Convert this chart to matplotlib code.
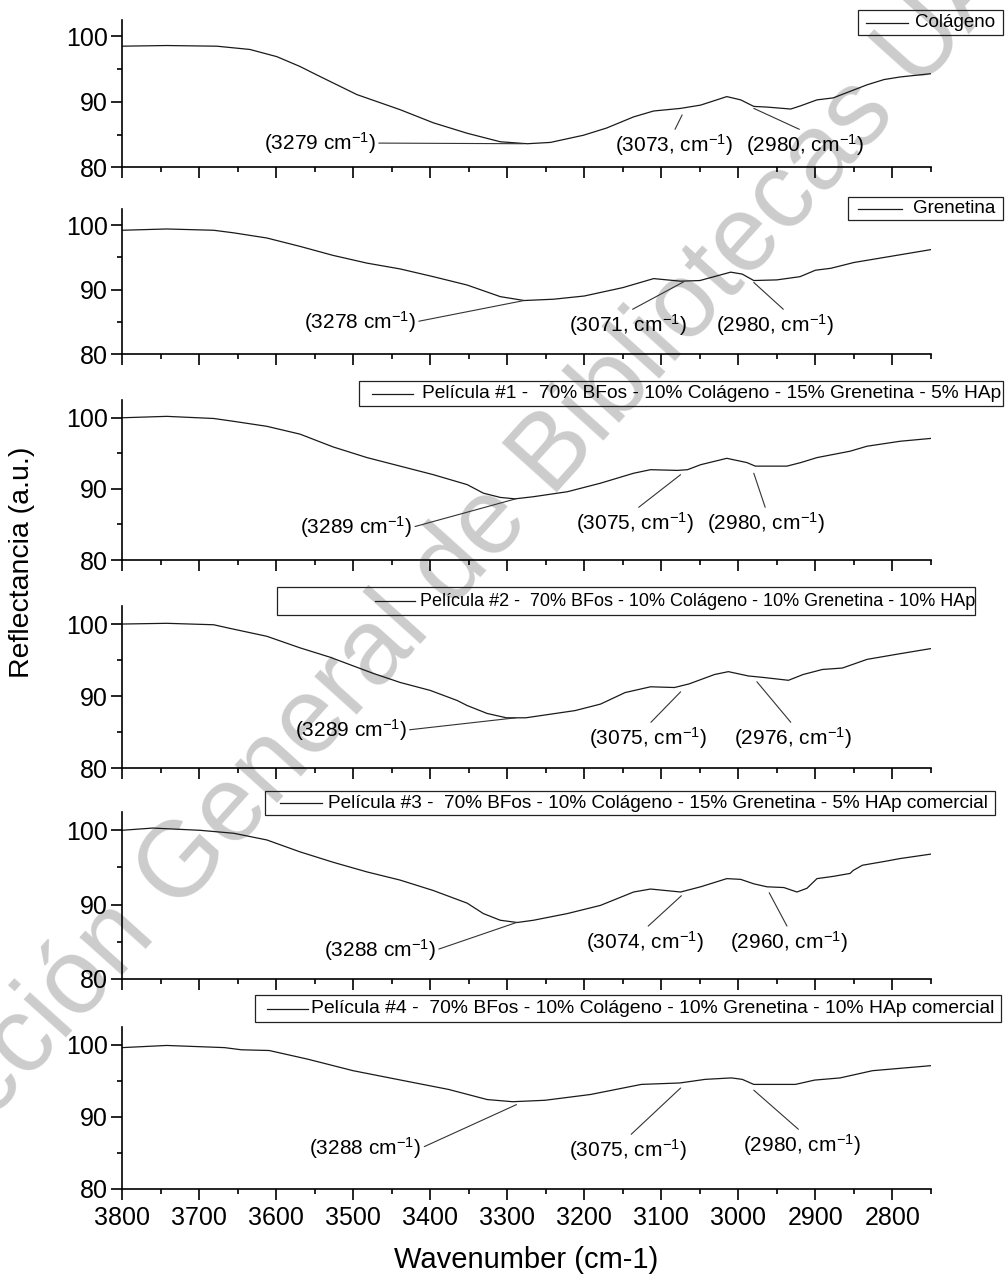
import matplotlib
matplotlib.use("Agg")
import matplotlib.pyplot as plt
from matplotlib.patches import Rectangle
from matplotlib.lines import Line2D
from matplotlib.ticker import MultipleLocator, NullFormatter

plt.rcParams['font.family'] = ['Liberation Sans', 'DejaVu Sans']
plt.rcParams['mathtext.default'] = 'regular'

# ---------------------------------------------------------------- data
labels = [
    "Colágeno",
    "Grenetina",
    "Película #1 -  70% BFos - 10% Colágeno - 15% Grenetina - 5% HAp",
    "Película #2 -  70% BFos - 10% Colágeno - 10% Grenetina - 10% HAp",
    "Película #3 -  70% BFos - 10% Colágeno - 15% Grenetina - 5% HAp comercial",
    "Película #4 -  70% BFos - 10% Colágeno - 10% Grenetina - 10% HAp comercial",
]

wn_colageno = [3800, 3742, 3677, 3634, 3599, 3569, 3547, 3495, 3439, 3396, 3352,
               3309, 3274, 3244, 3201, 3171, 3136, 3110, 3075, 3049, 3015, 2997,
               2980, 2963, 2932, 2919, 2898, 2877, 2855, 2833, 2811, 2790, 2750]
r_colageno = [98.5, 98.6, 98.5, 98.0, 96.9, 95.4, 94.1, 91.1, 88.8, 86.8, 85.2,
              83.9, 83.6, 83.8, 84.9, 86.0, 87.7, 88.6, 89.0, 89.5, 90.8, 90.3,
              89.3, 89.2, 88.9, 89.4, 90.3, 90.6, 91.6, 92.6, 93.4, 93.8, 94.3]

wn_grenetina = [3800, 3742, 3681, 3655, 3612, 3569, 3526, 3482, 3439, 3396, 3352,
                3309, 3278, 3240, 3200, 3150, 3110, 3075, 3050, 3010, 2995, 2980,
                2950, 2920, 2900, 2880, 2850, 2800, 2750]
r_grenetina = [99.2, 99.4, 99.2, 98.8, 98.0, 96.7, 95.3, 94.1, 93.2, 92.0, 90.7,
               88.9, 88.3, 88.5, 89.0, 90.3, 91.7, 91.3, 91.4, 92.7, 92.4, 91.4,
               91.5, 92.0, 93.0, 93.3, 94.2, 95.2, 96.2]

wn_pel1 = [3800, 3742, 3681, 3655, 3612, 3569, 3526, 3482, 3439, 3396, 3352, 3331,
           3309, 3290, 3266, 3222, 3179, 3136, 3114, 3079, 3066, 3049, 3015, 2989,
           2978, 2963, 2937, 2919, 2898, 2855, 2833, 2790, 2750]
r_pel1 = [100.0, 100.2, 99.9, 99.5, 98.8, 97.7, 95.9, 94.4, 93.2, 92.0, 90.6, 89.4,
          88.8, 88.6, 88.9, 89.6, 90.8, 92.2, 92.7, 92.6, 92.7, 93.4, 94.3, 93.7,
          93.2, 93.2, 93.2, 93.7, 94.4, 95.3, 96.0, 96.7, 97.1]

wn_pel2 = [3800, 3742, 3681, 3660, 3612, 3569, 3530, 3475, 3439, 3400, 3365, 3352,
           3326, 3301, 3276, 3212, 3179, 3147, 3114, 3083, 3064, 3031, 3013, 2987,
           2968, 2935, 2916, 2891, 2865, 2833, 2795, 2750]
r_pel2 = [100.0, 100.1, 99.9, 99.4, 98.3, 96.7, 95.4, 93.2, 91.9, 90.8, 89.4, 88.7,
          87.6, 87.0, 87.0, 88.0, 88.9, 90.5, 91.3, 91.2, 91.7, 93.0, 93.4, 92.8,
          92.6, 92.2, 93.0, 93.7, 93.9, 95.1, 95.8, 96.6]

wn_pel3 = [3800, 3760, 3740, 3699, 3655, 3612, 3569, 3526, 3482, 3439, 3396, 3352,
           3331, 3309, 3287, 3266, 3222, 3179, 3136, 3114, 3075, 3049, 3015, 2997,
           2980, 2963, 2941, 2924, 2911, 2898, 2877, 2855, 2851, 2839, 2811, 2790,
           2750]
r_pel3 = [100.0, 100.3, 100.2, 100.0, 99.6, 98.7, 97.1, 95.7, 94.4, 93.3, 91.9, 90.2,
          88.8, 87.9, 87.6, 87.9, 88.8, 89.9, 91.7, 92.1, 91.7, 92.4, 93.5, 93.4,
          92.8, 92.4, 92.3, 91.7, 92.2, 93.5, 93.8, 94.2, 94.6, 95.3, 95.8, 96.2,
          96.8]

wn_pel4 = [3800, 3742, 3667, 3645, 3609, 3559, 3500, 3443, 3376, 3326, 3293, 3251,
           3192, 3126, 3076, 3043, 3009, 2995, 2980, 2926, 2901, 2868, 2826, 2750]
r_pel4 = [99.6, 99.9, 99.6, 99.3, 99.2, 98.0, 96.4, 95.2, 93.8, 92.4, 92.1, 92.3,
          93.1, 94.5, 94.7, 95.2, 95.4, 95.2, 94.5, 94.5, 95.1, 95.4, 96.4, 97.1]

series_wn = [wn_colageno, wn_grenetina, wn_pel1, wn_pel2, wn_pel3, wn_pel4]
series_r = [r_colageno, r_grenetina, r_pel1, r_pel2, r_pel3, r_pel4]

# peak labels: (text, wavenumber, value at pointer, text x, text y, anchor on text)
peaks = [
    [("(3279 cm$^{-1}$)", 3279, 83.6, 3543, 83.7, (1, 0.5)),
     ("(3073, cm$^{-1}$)", 3073, 88.0, 3084, 83.4, (0.5, 1)),
     ("(2980, cm$^{-1}$)", 2980, 89.0, 2913, 83.4, (0.5, 1))],
    [("(3278 cm$^{-1}$)", 3278, 88.3, 3491, 85.0, (1, 0.5)),
     ("(3071, cm$^{-1}$)", 3071, 91.2, 3144, 84.5, (0.5, 1)),
     ("(2980, cm$^{-1}$)", 2980, 91.1, 2953, 84.5, (0.6, 1))],
    [("(3289 cm$^{-1}$)", 3289, 88.6, 3496, 84.6, (1, 0.5)),
     ("(3075, cm$^{-1}$)", 3075, 92.0, 3134, 85.2, (0.5, 1)),
     ("(2980, cm$^{-1}$)", 2980, 92.2, 2964, 85.2, (0.5, 1))],
    [("(3289 cm$^{-1}$)", 3289, 87.0, 3503, 85.3, (1, 0.5)),
     ("(3075, cm$^{-1}$)", 3075, 90.6, 3117, 84.2, (0.5, 1)),
     ("(2976, cm$^{-1}$)", 2976, 92.0, 2929, 84.2, (0.5, 1))],
    [("(3288 cm$^{-1}$)", 3288, 87.6, 3465, 83.9, (1, 0.5)),
     ("(3074, cm$^{-1}$)", 3074, 91.2, 3121, 85.0, (0.5, 1)),
     ("(2960, cm$^{-1}$)", 2960, 91.6, 2935, 85.0, (0.5, 1))],
    [("(3288 cm$^{-1}$)", 3288, 91.7, 3484, 85.7, (1, 0.5)),
     ("(3075, cm$^{-1}$)", 3075, 94.0, 3143, 85.4, (0.5, 1)),
     ("(2980, cm$^{-1}$)", 2980, 93.7, 2918, 86.1, (0.5, 1))],
]

# ---------------------------------------------------------------- layout (pixels)
W, H = 1005, 1277
X_LEFT, X_RIGHT = 122, 931
panel_rows = [(20, 167.3), (209, 354), (400, 560), (606, 768.3), (811.7, 979), (1026.7, 1189)]
# key boxes: (x0, x1, y0, y1, handle x0, handle x1, text x, font size)
keys = [
    (858, 1003, 10, 35, 866, 908, 915, 13.5),
    (848, 1003, 197, 220, 858, 902, 913, 13.5),
    (359, 1003, 381, 406, 372, 413, 422, 13.8),
    (277, 975, 587, 615, 375, 415, 420, 13.0),
    (265, 995, 791, 815, 280, 322, 328, 13.7),
    (255, 1001, 995, 1022, 267, 308, 311, 13.9),
]

fig = plt.figure(figsize=(W / 100, H / 100), dpi=100)

LINE_C = '#1a1a1a'
for i, (top, bot) in enumerate(panel_rows):
    ax = fig.add_axes([X_LEFT / W, 1 - bot / H, (X_RIGHT - X_LEFT) / W, (bot - top) / H])
    ax.set_facecolor('none')
    line, = ax.plot(series_wn[i], series_r[i], color=LINE_C, lw=0.9)
    ax.set_xlim(3800, 2750)
    ax.set_ylim(80, 102.5)
    for s in ('top', 'right'):
        ax.spines[s].set_visible(False)
    for s in ('left', 'bottom'):
        ax.spines[s].set_linewidth(1.2)
    ax.xaxis.set_major_locator(MultipleLocator(100))
    ax.xaxis.set_minor_locator(MultipleLocator(50))
    ax.yaxis.set_major_locator(MultipleLocator(10))
    ax.yaxis.set_minor_locator(MultipleLocator(5))
    ax.tick_params(which='major', direction='out', length=8, width=1.2, labelsize=18, pad=2)
    ax.tick_params(which='minor', direction='out', length=3.8, width=1.2)
    ax.tick_params(axis='x', which='major', pad=4)
    if i < len(panel_rows) - 1:
        ax.xaxis.set_major_formatter(NullFormatter())

    for txt, xw, yv, tx, ty, rp in peaks[i]:
        ax.annotate(txt, xy=(xw, yv), xytext=(tx, ty), textcoords='data',
                    ha='center', va='center', fontsize=15,
                    arrowprops=dict(arrowstyle='-', color='#333333', lw=0.8,
                                    shrinkA=0, shrinkB=0, relpos=rp))

    x0, x1, y0, y1, h0, h1, tx, fs = keys[i]
    fig.add_artist(Rectangle((x0 / W, 1 - y1 / H), (x1 - x0) / W, (y1 - y0) / H,
                             transform=fig.transFigure, fill=False, lw=0.9,
                             ec='#222222'))
    yc = 1 - (y0 + y1) / 2 / H
    fig.add_artist(Line2D([h0 / W, h1 / W], [yc, yc], transform=fig.transFigure,
                          color=line.get_color(), lw=line.get_linewidth()))
    fig.text(tx / W, yc, labels[i], ha='left', va='center', fontsize=fs)

    if i == len(panel_rows) - 1:
        ax.set_xlabel("Wavenumber (cm-1)", fontsize=21, labelpad=12)

fig.text(22 / W, 1 - 562 / H, "Reflectancia (a.u.)", rotation=90,
         ha='center', va='center', fontsize=20.5)

# library stamp across the sheet
fig.text(445 / W, 1 - 575 / H, "Dirección General de Bibliotecas UAQ",
         rotation=48, rotation_mode='anchor', ha='center', va='center',
         fontsize=77, color='#cccccc', zorder=-1)

fig.savefig("out.png", dpi=100)
